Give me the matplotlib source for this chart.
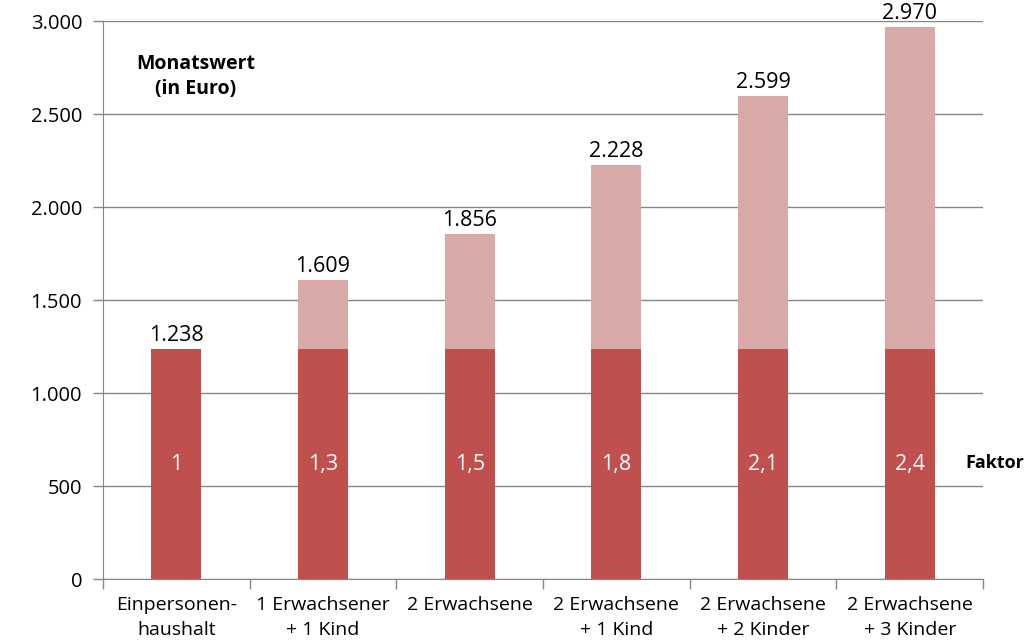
import matplotlib.pyplot as plt
import numpy as np

categories = ['Einpersonen-\nhaushalt', '1 Erwachsener\n+ 1 Kind', '2 Erwachsene',
              '2 Erwachsene\n+ 1 Kind', '2 Erwachsene\n+ 2 Kinder', '2 Erwachsene\n+ 3 Kinder']
totals = [1238, 1609, 1856, 2228, 2599, 2970]
base = [1238, 1238, 1238, 1238, 1238, 1238]
factors = ['1', '1,3', '1,5', '1,8', '2,1', '2,4']
yticks = [0, 500, 1000, 1500, 2000, 2500, 3000]
ytick_labels = ['0', '500', '1.000', '1.500', '2.000', '2.500', '3.000']

plt.rcParams['font.family'] = ['Open Sans', 'DejaVu Sans']

fig = plt.figure(figsize=(10.31, 6.43), dpi=100)
ax = fig.add_axes([0.0999, 0.0995, 0.8536, 0.8678])

x = np.arange(len(categories))
extra = [t - b for t, b in zip(totals, base)]
ax.bar(x, base, width=0.34, color='#C0504D', zorder=3)
ax.bar(x, extra, bottom=base, width=0.34, color='#D9A9A8', zorder=3)

for i in range(len(x)):
    ax.text(x[i], totals[i] + 15, f'{totals[i]:,}'.replace(',', '.'), ha='center', va='bottom',
            fontsize=15.5, color='#000000')
    ax.text(x[i], 615, factors[i], ha='center', va='center', fontsize=15.5, color='white', zorder=4)

ax.set_xlim(-0.5, len(categories) - 0.5)
ax.set_ylim(0, 3000)
ax.set_yticks(yticks)
ax.set_yticklabels(ytick_labels, fontsize=14.5)
ax.set_xticks(x)
ax.set_xticklabels(categories, fontsize=14, linespacing=1.5)
ax.tick_params(axis='x', length=0, pad=12)
ax.set_xticks(np.arange(-0.5, len(categories)), minor=True)
ax.tick_params(axis='x', which='minor', length=7, color='#868686', width=1)
ax.tick_params(axis='y', length=7, color='#868686', width=1, pad=8)

ax.grid(axis='y', color='#868686', linewidth=1, zorder=0)
for s in ['top', 'right']:
    ax.spines[s].set_visible(False)
for s in ['left', 'bottom']:
    ax.spines[s].set_color('#868686')

ax.text(0.13, 2700, 'Monatswert\n(in Euro)', ha='center', va='center', fontsize=14,
        fontweight='bold', linespacing=1.35)
ax.text(1.013, 625 / 3000, 'Faktor', transform=ax.transAxes, ha='center', va='center',
        fontsize=13, fontweight='bold')

fig.savefig('out.png', dpi=100)
